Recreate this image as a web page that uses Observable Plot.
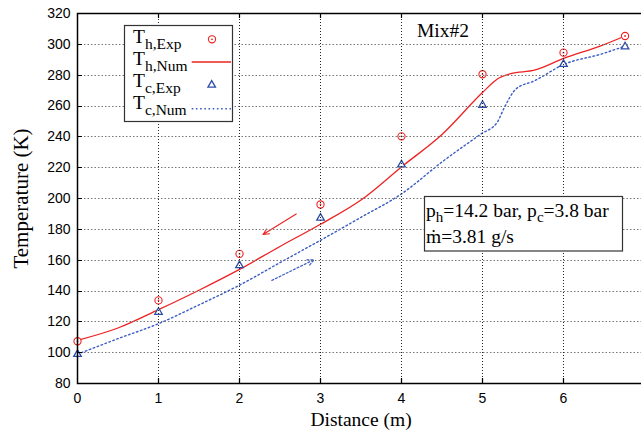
<!DOCTYPE html>
<html><head><meta charset="utf-8">
<script src="https://cdn.jsdelivr.net/npm/d3@7"></script>
<script src="https://cdn.jsdelivr.net/npm/@observablehq/plot@0.6"></script>
<style>
html,body{margin:0;padding:0;background:#fff;overflow:hidden;}
</style></head><body><div id="chart"></div>
<script>
// ---- data ----
const distanceExp = [0, 1, 2, 3, 4, 5, 6, 6.76];
const thExp = [107.4, 133.9, 164.1, 196.1, 240.3, 280.6, 294.6, 305.4];
const tcExp = [99, 126.3, 156.6, 187.4, 221.9, 260.6, 287.1, 298.5];

const distanceThNum = [0, 0.5, 1, 1.5, 2, 2.5, 3, 3.5, 4, 4.5, 5, 5.18, 5.35, 5.64, 6.01, 6.46, 6.76];
const thNum = [108, 116, 127.9, 140.5, 154, 168.9, 183.3, 199, 220.5, 241.5, 268.7, 277.4, 281, 283.2, 291, 299, 305.4];

const distanceTcNum = [0, 0.5, 1, 1.5, 2, 2.5, 3, 3.5, 4, 4.52, 4.98, 5.18, 5.27, 5.41, 5.64, 6.01, 6.46, 6.77];
const tcNum = [99, 109.1, 118.8, 131, 143.8, 158.4, 172.9, 187.8, 203, 224.5, 241.8, 249.3, 259, 270.9, 276.3, 287.1, 293.6, 299];

const xTicks = [0, 1, 2, 3, 4, 5, 6];
const yTicks = [80, 100, 120, 140, 160, 180, 200, 220, 240, 260, 280, 300, 320];
const xGrid = [1, 2, 3, 4, 5, 6];
const yGrid = [100, 120, 140, 160, 180, 200, 220, 240, 260, 280, 300];

const legendMain = "T";
const legendSubs = ["h,Exp", "h,Num", "c,Exp", "c,Num"];
const caseName = "Mix#2";
const pressureHot = 14.2, pressureCold = 3.8, massFlow = 3.81;
const xLabel = "Distance (m)", yLabel = "Temperature (K)";

// ---- tables ----
const expRows = distanceExp.map((d, i) => ({x: d, th: thExp[i], tc: tcExp[i]}));
const thRows = distanceThNum.map((d, i) => ({x: d, y: thNum[i]}));
const tcRows = distanceTcNum.map((d, i) => ({x: d, y: tcNum[i]}));

const red = "#ee2222", blue = "#2d4ea6", blueLine = "#3a5cc4";
const serif = "'Liberation Serif', 'Times New Roman', serif";
const X0 = 0, X1 = 7, Y0 = 80, Y1 = 320;
const W = 641, H = 430, ML = 77, MR = -3, MT = 13, MB = 47;

const chart = Plot.plot({
  width: W, height: H,
  marginLeft: ML, marginRight: MR, marginTop: MT, marginBottom: MB,
  style: {fontFamily: "'Liberation Sans', Arial, sans-serif", fontSize: "14px", background: "white", color: "black"},
  x: {domain: [X0, X1]},
  y: {domain: [Y0, Y1]},
  marks: [
    Plot.line(tcRows, {x: "x", y: "y", stroke: blueLine, strokeWidth: 1.4, strokeDasharray: "1.6,2.6", curve: "monotone-x"}),
    Plot.line(thRows, {x: "x", y: "y", stroke: red, strokeWidth: 1.3, curve: "monotone-x"}),
    Plot.arrow([{x1: 2.70, y1: 190.0, x2: 2.29, y2: 176.6}], {x1: "x1", y1: "y1", x2: "x2", y2: "y2", stroke: red, strokeWidth: 1.1, headLength: 9, headAngle: 50}),
    Plot.arrow([{x1: 2.40, y1: 146.9, x2: 2.92, y2: 160.3}], {x1: "x1", y1: "y1", x2: "x2", y2: "y2", stroke: blueLine, strokeWidth: 1.2, strokeDasharray: "2,2", headLength: 9, headAngle: 50}),
    Plot.dot(expRows, {x: "x", y: "th", r: 3.6, stroke: red, strokeWidth: 1.1, fill: "white"}),
    Plot.dot(expRows, {x: "x", y: "th", r: 0.9, fill: red}),
    Plot.dot(expRows, {x: "x", y: "tc", symbol: "triangle", r: 2.8, stroke: blue, strokeWidth: 1.3, fill: "white"}),
    Plot.frame({stroke: "black", strokeWidth: 1.5}),
    Plot.axisX(xTicks, {tickSize: 0, tickPadding: 10, label: null, fontSize: 14}),
    Plot.axisY(yTicks, {tickSize: 0, tickPadding: 7, label: null, fontSize: 14}),
    Plot.text([xLabel], {frameAnchor: "bottom", lineAnchor: "middle", textAnchor: "middle", dy: 36, fontFamily: serif, fontSize: 19.5}),
    Plot.text([yLabel], {frameAnchor: "left", lineAnchor: "middle", textAnchor: "middle", rotate: -90, dx: -56, fontFamily: serif, fontSize: 21}),
    Plot.text([caseName], {frameAnchor: "top", lineAnchor: "middle", textAnchor: "middle", dx: 82, dy: 17.5, fontFamily: serif, fontSize: 19.5})
  ]
});
document.getElementById("chart").appendChild(chart);

const svg = d3.select(chart);

// scales: taken from Plot, with a fallback equal to Plot's own layout
function makeScale(name, dom, rng) {
  let s = null;
  try { s = chart.scale(name); } catch (e) { s = null; }
  const d = s && Array.isArray(s.domain) && s.domain.every(Number.isFinite) ? s.domain : dom;
  const r = s && Array.isArray(s.range) && s.range.every(Number.isFinite) ? s.range : rng;
  return d3.scaleLinear(d, r);
}
const fx = makeScale("x", [X0, X1], [ML, W - MR]);
const fy = makeScale("y", [Y0, Y1], [H - MB, MT]);

// ---- grid lines and inward ticks ----
const grid = svg.append("g").attr("fill", "none");
const px = v => Math.round(fx(v)) + 0.5;
const py = v => Math.round(fy(v)) + 0.5;
const frameL = fx(X0), frameR = Math.min(fx(X1), W), frameB = fy(Y0), frameT = fy(Y1);
yGrid.forEach(v => {
  grid.append("path").attr("d", `M${frameL},${py(v)}L${frameR},${py(v) + 0.01}`)
    .attr("stroke", "#777").attr("stroke-width", 1).attr("stroke-dasharray", "1.5,2");
  grid.append("path").attr("d", `M${frameL},${py(v)}L${frameL + 5},${py(v) + 0.01}`)
    .attr("stroke", "black").attr("stroke-width", 1.2);
});
xGrid.forEach(v => {
  grid.append("path").attr("d", `M${px(v)},${frameT}L${px(v) + 0.01},${frameB}`)
    .attr("stroke", "#222").attr("stroke-width", 1).attr("stroke-dasharray", "1,2");
  grid.append("path").attr("d", `M${px(v)},${frameB}L${px(v) + 0.01},${frameB - 5}`)
    .attr("stroke", "black").attr("stroke-width", 1.2);
  grid.append("path").attr("d", `M${px(v)},${frameT}L${px(v) + 0.01},${frameT + 5}`)
    .attr("stroke", "black").attr("stroke-width", 1.2);
});

// ---- legend & parameter box overlays ----
const leg = svg.append("g").attr("font-family", serif).attr("text-anchor", "start");
leg.append("rect").attr("x", 124.5).attr("y", 25.5).attr("width", 108).attr("height", 96)
  .attr("fill", "white").attr("stroke", "#333").attr("stroke-width", 1.2);
const rowBase = [43.3, 65, 87.3, 109.3];
legendSubs.forEach((s, i) => {
  const t = leg.append("text").attr("x", 133).attr("y", rowBase[i]).attr("font-size", 19.5);
  t.append("tspan").text(legendMain);
  t.append("tspan").attr("dy", 6).attr("font-size", 15.5).text(s);
});
leg.append("circle").attr("cx", 212).attr("cy", 39.3).attr("r", 3.6).attr("fill", "white").attr("stroke", red).attr("stroke-width", 1.1);
leg.append("circle").attr("cx", 212).attr("cy", 39.3).attr("r", 0.9).attr("fill", red);
leg.append("path").attr("d", "M191.7,62L231,62.001").attr("stroke", red).attr("stroke-width", 1.3);
leg.append("path").attr("d", d3.symbol(d3.symbolTriangle, 2.8 * 2.8 * Math.PI)()).attr("transform", "translate(211.7,85)")
  .attr("fill", "white").attr("stroke", blue).attr("stroke-width", 1.3);
leg.append("path").attr("d", "M191.7,108.7L231,108.701").attr("stroke", blueLine).attr("stroke-width", 1.4).attr("stroke-dasharray", "1.6,2.6");

const box = svg.append("g").attr("font-family", serif).attr("font-size", 19.5).attr("text-anchor", "start");
box.append("rect").attr("x", 424.5).attr("y", 196.5).attr("width", 198).attr("height", 54.5)
  .attr("fill", "white").attr("stroke", "#333").attr("stroke-width", 1.2);
const l1 = box.append("text").attr("x", 426).attr("y", 217.3);
l1.append("tspan").text("p");
l1.append("tspan").attr("dy", 5).attr("font-size", 15).text("h");
l1.append("tspan").attr("dy", -5).text(`=${pressureHot} bar, p`);
l1.append("tspan").attr("dy", 5).attr("font-size", 15).text("c");
l1.append("tspan").attr("dy", -5).text(`=${pressureCold} bar`);
box.append("text").attr("x", 426).attr("y", 243.3).text(`m\u0307=${massFlow} g/s`);
</script></body></html>
